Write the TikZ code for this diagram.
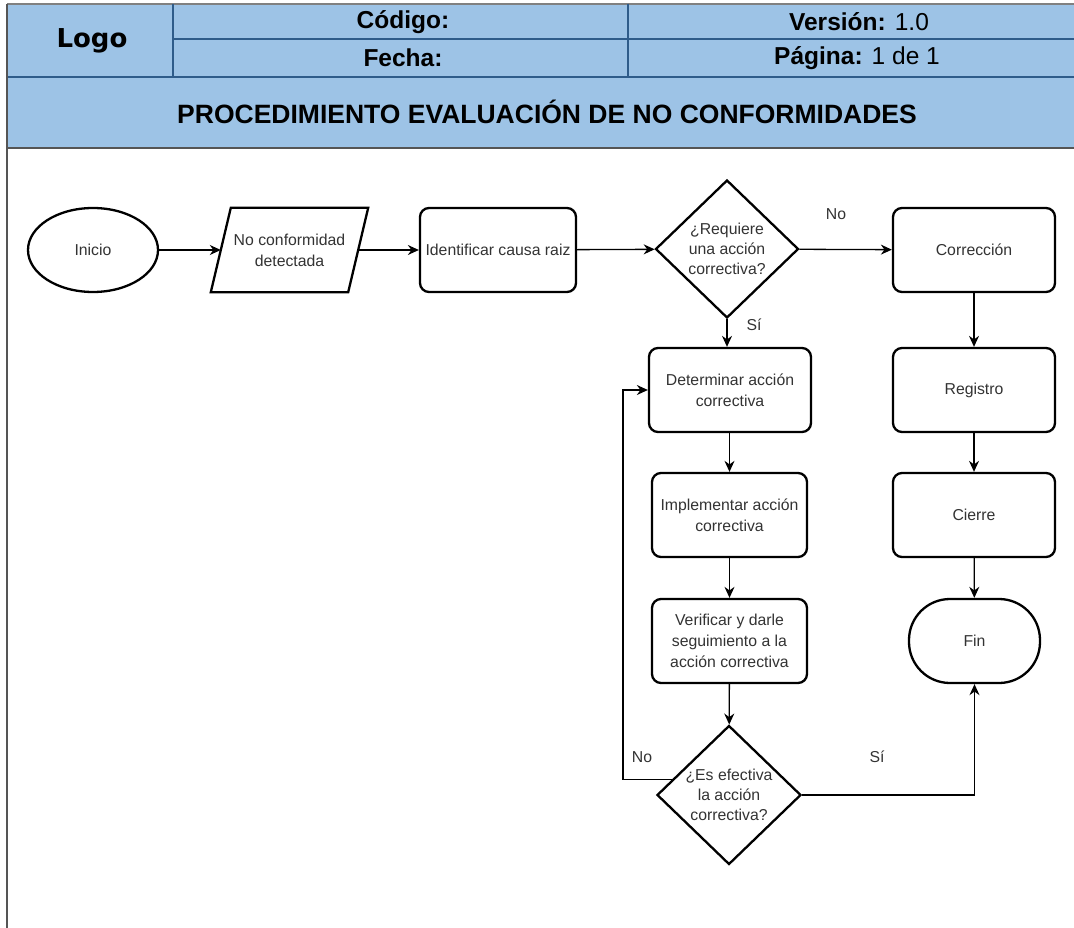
\documentclass[tikz,border=0pt]{standalone}
\usepackage{fontspec}
\setmainfont{Liberation Sans}
\newfontfamily\logofont{DejaVu Sans}
\usetikzlibrary{shapes.geometric,arrows.meta,calc}
\definecolor{hdrfill}{HTML}{9DC3E6}
\definecolor{hdrline}{HTML}{2F5C8A}
\definecolor{txt}{HTML}{333333}
\definecolor{pageline}{HTML}{555555}
\newcommand\flowfont{\fontsize{15.8}{21}\selectfont}
\newcommand\decofont{\fontsize{15.8}{20}\selectfont}
\newcommand\hdrfont{\fontsize{24.5}{28}\selectfont}
\begin{document}
\begin{tikzpicture}[x=1pt,y=-1pt,
  box/.style={draw, line width=2.3pt, rounded corners=9pt, minimum width=162pt, minimum height=84pt, align=center, text=txt, font=\flowfont, inner sep=2pt},
  dec/.style={diamond, draw, line width=2.3pt, minimum width=143pt, minimum height=138pt, aspect=1.04, inner sep=0pt, align=center, text=txt, font=\decofont},
  arr/.style={-{Stealth[length=11pt,width=10pt]}, line width=1.3pt},
  lbl/.style={text=txt, font=\flowfont, inner sep=0pt},
  hdr/.style={font=\hdrfont, inner sep=0pt, text=black}]
\useasboundingbox (0,0) rectangle (1074,928);
\fill[white] (0,0) rectangle (1074,928);
% header
\fill[hdrfill] (7,4) rectangle (1074,148);
\draw[gray, line width=1.2pt] (7,4) -- (1074,4);
\draw[hdrline, line width=2.5pt] (173,4) -- (173,77);
\draw[hdrline, line width=2.5pt] (628,4) -- (628,77);
\draw[hdrline, line width=2.5pt] (173,39) -- (1074,39);
\draw[hdrline, line width=2.5pt] (7,77) -- (1074,77);
\draw[pageline, line width=2pt] (7,148) -- (1074,148);
\draw[pageline, line width=2.5pt] (7,4) -- (7,928);
\node[hdr] (logo) at (92,41) {\logofont\bfseries\fontsize{26}{30}\selectfont Logo};
\node[hdr] (cod) at (403,22) {\bfseries Código:};
\node[hdr] (fec) at (403,58) {\bfseries Fecha:};
\node[hdr] (ver) at (859,22) {\textbf{Versión:} 1.0};
\node[hdr] (pag) at (857,58) {\textbf{Página:} 1 de 1};
\node[inner sep=0pt, font=\bfseries\fontsize{26.5}{30}\selectfont] (title) at (547,112) {PROCEDIMIENTO EVALUACIÓN DE NO CONFORMIDADES};
% flowchart
\node[ellipse, draw, line width=2.3pt, minimum width=130pt, minimum height=84pt, text=txt, font=\flowfont] (ini) at (93,250) {Inicio};
\node[minimum width=137pt, minimum height=84pt, align=center, text=txt, font=\flowfont, inner sep=0pt] (nc) at (289.5,250) {No conformidad\\detectada};
\draw[line width=2.3pt, line join=miter] ($(nc.south west)+(-10,0)$) -- ($(nc.north west)+(10,0)$) -- ($(nc.north east)+(10,0)$) -- ($(nc.south east)+(-10,0)$) -- cycle;
\node[box, minimum width=156pt] (ide) at (498,250) {Identificar causa raiz};
\node[dec] (d1) at (727,249) {¿Requiere\\una acción\\correctiva?};
\node[box] (cor) at (974,250) {Corrección};
\node[box] (det) at (730,390) {Determinar acción\\correctiva};
\node[box] (reg) at (974,390) {Registro};
\node[box, minimum width=155pt] (imp) at (729.5,515) {Implementar acción\\correctiva};
\node[box] (cie) at (974,515) {Cierre};
\node[box, minimum width=155pt] (ver2) at (729.5,641) {Verificar y darle\\seguimiento a la\\acción correctiva};
\node[draw, line width=2.3pt, rounded corners=41pt, minimum width=131pt, minimum height=84pt, text=txt, font=\flowfont] (fin) at (974.5,641) {Fin};
\node[dec, minimum width=144pt, minimum height=139pt] (d2) at (729,795) {¿Es efectiva\\la acción\\correctiva?};
% connectors
\draw[arr] (ini) -- (nc);
\draw[arr] (nc) -- (ide);
\draw[arr] (ide) -- (d1);
\draw[arr] (d1) -- (cor);
\draw[arr] (d1.south) -- (d1.south |- det.north);
\draw[arr] (det.south -| imp.north) -- (imp.north);
\draw[arr] (imp) -- (ver2);
\draw[arr] (ver2) -- (d2);
\draw[arr] (cor) -- (reg);
\draw[arr] (reg) -- (cie);
\draw[arr] (cie) -- (fin);
\draw[arr] (d2.east) -| (fin.south);
\coordinate (lp) at (623,390);
\draw[arr] (d2.165) -| (lp) -- (det.west);
\node[lbl] (lno1) at (836,214) {No};
\node[lbl] (lsi1) at (754,325) {Sí};
\node[lbl] (lno2) at (642,757) {No};
\node[lbl] (lsi2) at (877,757) {Sí};
\end{tikzpicture}
\end{document}
